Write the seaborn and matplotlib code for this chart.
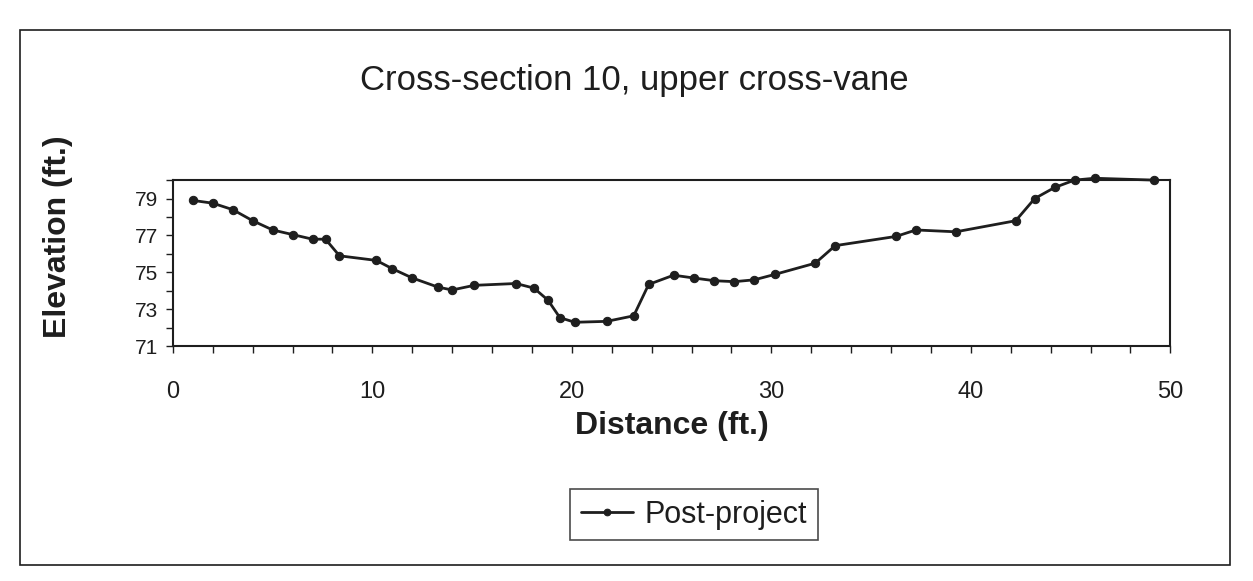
import numpy as np
import pandas as pd
import matplotlib.pyplot as plt
import seaborn as sns
from matplotlib.patches import Rectangle
from matplotlib.ticker import MultipleLocator

sns.set_style('white')
plt.rcParams['font.family'] = ['Liberation Sans', 'DejaVu Sans']

# Survey points
distance = [1.0, 2.0, 3.0, 4.0, 5.0, 6.0, 7.0, 7.65, 8.35, 10.2,
            11.0, 12.0, 13.3, 14.0, 15.1, 17.2, 18.1, 18.8, 19.4, 20.15,
            21.75, 23.1, 23.85, 25.1, 26.1, 27.15, 28.15, 29.15, 30.2, 32.2,
            33.2, 36.25, 37.25, 39.25, 42.25, 43.2, 44.2, 45.2, 46.2, 49.2]
elevation = [78.9, 78.75, 78.4, 77.8, 77.3, 77.05, 76.8, 76.8, 75.9, 75.65,
             75.2, 74.7, 74.2, 74.05, 74.3, 74.4, 74.15, 73.5, 72.55, 72.3,
             72.35, 72.65, 74.35, 74.85, 74.7, 74.55, 74.5, 74.6, 74.9, 75.5,
             76.45, 76.95, 77.3, 77.2, 77.8, 79.0, 79.6, 80.0, 80.1, 80.0]
y_ticks = [71, 73, 75, 77, 79]
x_ticks = [0, 10, 20, 30, 40, 50]

df = pd.DataFrame({'Distance': distance, 'Elevation': elevation})
ink = '#1e1e1e'

fig = plt.figure(figsize=(12.53, 5.81), dpi=100)
ax = fig.add_axes([0.138, 0.404, 0.796, 0.286])

sns.lineplot(data=df, x='Distance', y='Elevation', ax=ax, color=ink,
             linewidth=2, marker='o', markersize=6, markeredgecolor=ink,
             label='Post-project', sort=False, clip_on=False)

ax.set_xlim(0, 50)
ax.set_ylim(71, 80)
ax.set_yticks(y_ticks)
ax.set_xticks(x_ticks)
ax.yaxis.set_minor_locator(MultipleLocator(1))
ax.xaxis.set_minor_locator(MultipleLocator(2))
ax.tick_params(axis='both', which='both', direction='out', length=5, width=1,
               color=ink, labelcolor=ink, left=True, bottom=True)
ax.tick_params(axis='y', labelsize=15, pad=6)
ax.tick_params(axis='x', labelsize=17, pad=20)
for s in ax.spines.values():
    s.set_color(ink)
    s.set_linewidth(1.5)

ax.set_xlabel('Distance (ft.)', fontsize=23, fontweight='bold', color=ink)
ax.xaxis.set_label_coords(0.5, -0.39)
ax.set_ylabel('Elevation (ft.)', fontsize=23, fontweight='bold', color=ink)
ax.yaxis.set_label_coords(-0.100, 0.66)

fig.text(0.506, 0.862, 'Cross-section 10, upper cross-vane', ha='center',
         va='center', fontsize=25, color=ink)

ax.legend(loc='center', bbox_to_anchor=(0.554, 0.114), bbox_transform=fig.transFigure,
          fontsize=22, frameon=True, fancybox=False, edgecolor=ink,
          handlelength=1.7, borderpad=0.35, handletextpad=0.4, markerscale=0.8)
ax.get_legend().get_frame().set_linewidth(1.2)
for t in ax.get_legend().get_texts():
    t.set_color(ink)

# outer chart border
fig.patches.append(Rectangle((0.016, 0.028), 0.966, 0.92, transform=fig.transFigure,
                             fill=False, edgecolor=ink, linewidth=1.2))

fig.savefig('out.png', dpi=100, facecolor='white')
